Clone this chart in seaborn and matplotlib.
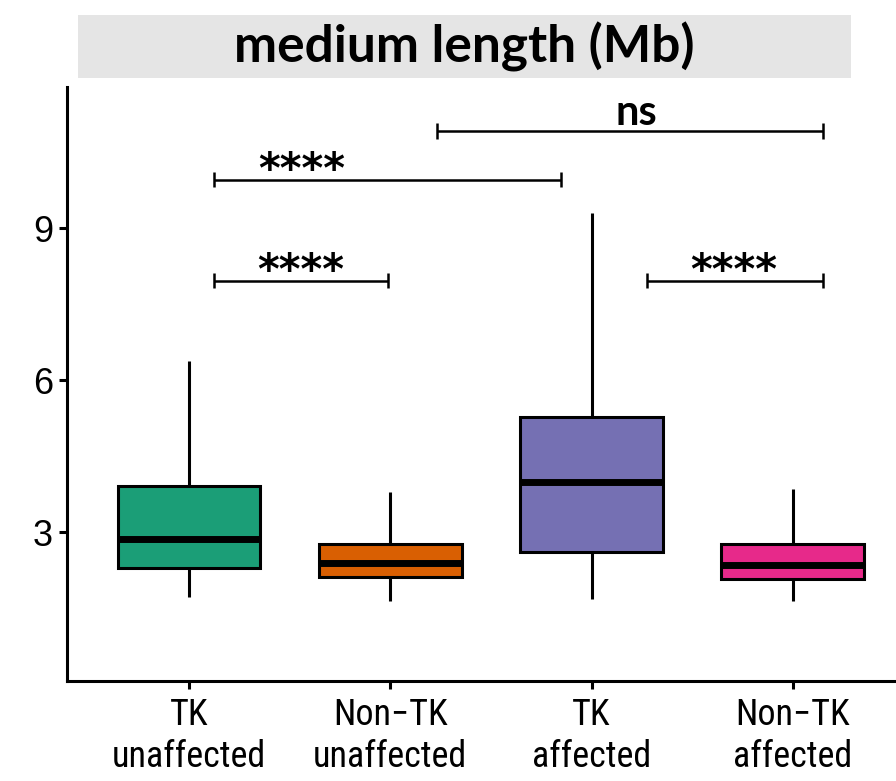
import matplotlib
matplotlib.use("Agg")
import matplotlib.pyplot as plt
import seaborn as sns
import pandas as pd
from matplotlib.patches import Rectangle
from matplotlib import font_manager

# ---- data (five-number summaries) ----
categories = ["TK\nunaffected", "Non\u2212TK\nunaffected", "TK\naffected", "Non\u2212TK\naffected"]
whisker_low = [1.72, 1.64, 1.68, 1.64]
q1 = [2.29, 2.11, 2.61, 2.07]
median = [2.86, 2.39, 4.00, 2.35]
q3 = [3.91, 2.76, 5.27, 2.76]
whisker_high = [6.39, 3.79, 9.30, 3.85]
colors = ["#1B9E77", "#D95F02", "#7570B3", "#E7298A"]

# significance brackets: (x start, x end, y, label, label x)
sig_x0 = [0.124, 0.124, 1.232, 2.275]
sig_x1 = [0.989, 1.848, 3.149, 3.149]
sig_y = [7.97, 9.96, 10.92, 7.97]
sig_label = ["****", "****", "ns", "****"]
sig_label_x = [0.556, 0.561, 2.222, 2.707]

title = "medium length (Mb)"

rows = []
for i, c in enumerate(categories):
    for v in (whisker_low[i], q1[i], median[i], q3[i], whisker_high[i]):
        rows.append({"group": c, "value": v})
df = pd.DataFrame(rows)

sns.set_theme(style="ticks")
plt.rcParams["font.family"] = ["Liberation Sans", "DejaVu Sans"]
plt.rcParams["text.color"] = "black"

installed = {f.name for f in font_manager.fontManager.ttflist}
narrow = [n for n in ("Liberation Sans Narrow", "Roboto Condensed", "Open Sans Condensed")
          if n in installed]

fig = plt.figure(figsize=(8.96, 7.81), dpi=100)
ax = fig.add_axes([67 / 896, 1 - 680.7 / 781, 1 - 67 / 896, (680.7 - 87) / 781])

sns.boxplot(data=df, x="group", y="value", hue="group", order=categories,
            hue_order=categories, palette=colors, legend=False, whis=(0, 100),
            width=0.71, linewidth=2.2, linecolor="black", saturation=1,
            showcaps=False,
            medianprops={"linewidth": 5, "color": "black", "solid_capstyle": "butt"},
            ax=ax)

for x0, x1, y, lab, lx in zip(sig_x0, sig_x1, sig_y, sig_label, sig_label_x):
    ax.hlines(y, x0, x1, color="black", linewidth=1.8)
    ax.vlines([x0, x1], y - 0.15, y + 0.15, color="black", linewidth=1.8)
    if lab == "ns":
        ax.text(lx, y + 0.36, lab, ha="center", va="center", fontsize=30,
                fontweight="bold", color="black", family=["Lato", "DejaVu Sans"])
    else:
        ax.text(lx, y + 0.17, lab, ha="center", va="center",
                fontsize=30, fontweight="bold", color="black", family=["DejaVu Sans"])

ax.set_xlim(-0.606, 3.512)
ax.set_ylim(0.071, 11.79)
ax.set_yticks([3, 6, 9])
ax.set_yticklabels(["3", "6", "9"])
ax.set_xlabel("")
ax.set_ylabel("")
for s in ("top", "right"):
    ax.spines[s].set_visible(False)
for s in ("left", "bottom"):
    ax.spines[s].set_linewidth(2.2)
    ax.spines[s].set_color("black")
ax.tick_params(axis="both", direction="out", length=6, width=2.2, color="black",
               labelcolor="black")
ax.tick_params(axis="y", labelsize=26, pad=4)
ax.tick_params(axis="x", labelsize=26 if narrow else 25, pad=6)
for t in ax.get_xticklabels():
    t.set_family(narrow + ["Liberation Sans", "DejaVu Sans"])
    t.set_linespacing(1.2)

# facet strip
fig.patches.append(Rectangle((78 / 896, 1 - 78 / 781), 773 / 896, 63 / 781,
                             transform=fig.transFigure, facecolor="#E5E5E5",
                             edgecolor="none", zorder=0))
fig.text(464.5 / 896, 1 - 47 / 781, title, ha="center", va="center", fontsize=37,
         fontweight="bold", color="black", family=["Lato", "DejaVu Sans"])

fig.savefig("out.png", dpi=100)
